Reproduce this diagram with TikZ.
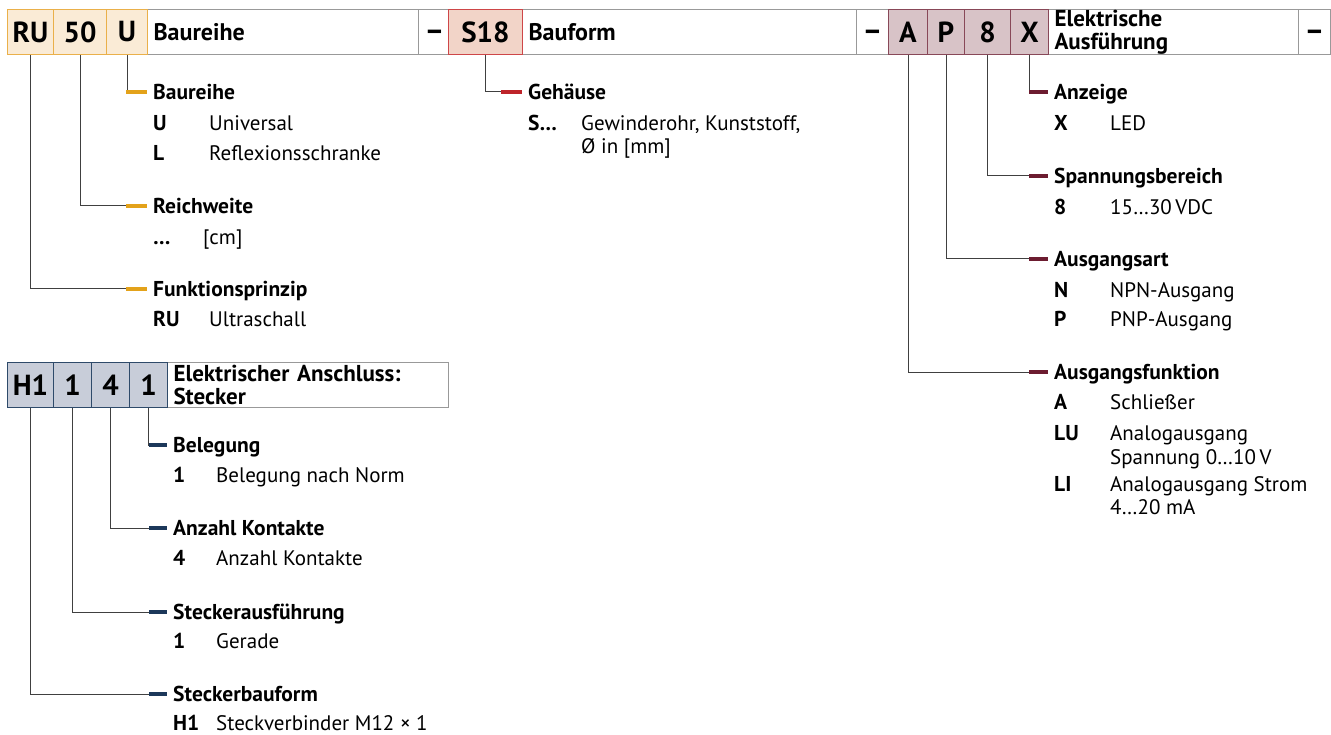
\documentclass[tikz,border=0pt]{standalone}
\usepackage{fontspec}
\setmainfont{PT Sans}
\usetikzlibrary{positioning}
\definecolor{yelfill}{RGB}{250,235,214}
\definecolor{yeldraw}{RGB}{234,176,74}
\definecolor{yelstub}{RGB}{227,162,26}
\definecolor{redfill}{RGB}{242,212,200}
\definecolor{reddraw}{RGB}{206,70,72}
\definecolor{redstub}{RGB}{190,36,42}
\definecolor{winefill}{RGB}{216,195,199}
\definecolor{winedraw}{RGB}{136,72,88}
\definecolor{winestub}{RGB}{108,28,48}
\definecolor{bluefill}{RGB}{200,205,217}
\definecolor{bluedraw}{RGB}{46,74,106}
\definecolor{bluestub}{RGB}{28,56,90}

\begin{document}
\begin{tikzpicture}[x=1pt, y=-1pt,
    box/.style={rectangle, inner sep=0pt, minimum height=45pt, anchor=north west, line width=1pt},
    codebox/.style={box, font=\fontsize{29}{30}\selectfont\bfseries},
    txtbox/.style={box, draw=black!40, fill=white, align=left, inner xsep=6pt, font=\fontsize{24}{22}\selectfont\bfseries},
    dashbox/.style={txtbox, align=center, text height=22pt, text depth=4pt, font=\fontsize{30}{30}\selectfont\bfseries},
    yel/.style={draw=yeldraw, fill=yelfill},
    red/.style={draw=reddraw, fill=redfill},
    wine/.style={draw=winedraw, fill=winefill},
    blue/.style={draw=bluedraw, fill=bluefill},
    head/.style={anchor=west, inner sep=0pt, text height=15pt, text depth=0pt, font=\fontsize{21.5}{24}\selectfont\bfseries},
    key/.style={head},
    desc/.style={anchor=west, inner sep=0pt, text height=15pt, text depth=0pt, font=\fontsize{21}{24}\selectfont},
    conn/.style={draw=black!75, line width=1pt},
    stub/.style={line width=4pt}
]
    \useasboundingbox (0,0) rectangle (1331,735);

    % header row
    \node[txtbox, minimum width=271pt, text width=259pt] (t-bau) at (147,9) {Baureihe};
    \node[dashbox, minimum width=30pt, text width=18pt] (d1) at (418,9) {–};
    \node[txtbox, minimum width=334pt, text width=322pt] (t-form) at (522,9) {Bauform};
    \node[dashbox, minimum width=32pt, text width=20pt] (d2) at (856,9) {–};
    \node[txtbox, minimum width=250pt, text width=238pt, font=\fontsize{23}{23}\selectfont\bfseries] (t-el) at (1048,9) {Elektrische\\Ausführung};
    \node[dashbox, minimum width=32pt, text width=20pt] (d3) at (1298,9) {–};

    \node[codebox, yel, minimum width=46pt] (ru) at (7,9) {RU};
    \node[codebox, yel, minimum width=53pt] (rw) at (53,9) {50};
    \node[codebox, yel, minimum width=41pt] (u) at (106,9) {U};
    \node[codebox, red, minimum width=74pt] (s18) at (448,9) {S18};
    \node[codebox, wine, minimum width=39pt] (a) at (888,9) {A};
    \node[codebox, wine, minimum width=37pt] (p) at (927,9) {P};
    \node[codebox, wine, minimum width=46pt] (v8) at (964,9) {8};
    \node[codebox, wine, minimum width=38pt] (x) at (1010,9) {X};

    % Baureihe
    \node[head] (bau) at (153,92) {Baureihe};
    \node[key] (k-u) at (153,123) {U};
    \node[desc] (d-u) at (209,123) {Universal};
    \node[key] (k-l) at (153,153) {L};
    \node[desc] (d-l) at (209,153) {Reflexionsschranke};
    \node[head] (reich) at (153,206) {Reichweite};
    \node[key] (k-rw) at (153,237) {…};
    \node[desc] (d-rw) at (203,237) {[cm]};
    \node[head] (fp) at (153,289) {Funktionsprinzip};
    \node[key] (k-ru) at (153,319) {RU};
    \node[desc] (d-ru) at (209,319) {Ultraschall};

    \draw[conn] (u.south) |- ([xshift=-6pt]bau.west);
    \draw[conn] (rw.south) |- ([xshift=-6pt]reich.west);
    \draw[conn] (ru.south) |- ([xshift=-6pt]fp.west);
    \draw[stub, yelstub] ([xshift=-27pt]bau.west) -- ([xshift=-6pt]bau.west);
    \draw[stub, yelstub] ([xshift=-27pt]reich.west) -- ([xshift=-6pt]reich.west);
    \draw[stub, yelstub] ([xshift=-27pt]fp.west) -- ([xshift=-6pt]fp.west);

    % Bauform
    \node[head] (geh) at (528,92) {Gehäuse};
    \node[key] (k-s) at (528,123) {S…};
    \node[desc] (d-s) at (581,123) {Gewinderohr, Kunststoff,};
    \node[desc] (d-s2) at (581,146) {Ø in [mm]};

    \draw[conn] (s18.south) |- ([xshift=-6pt]geh.west);
    \draw[stub, redstub] ([xshift=-27pt]geh.west) -- ([xshift=-6pt]geh.west);

    % Elektrische Ausfuehrung
    \node[head] (anz) at (1054,92) {Anzeige};
    \node[key] (k-x) at (1054,123) {X};
    \node[desc] (d-x) at (1110,123) {LED};
    \node[head] (span) at (1054,176) {Spannungsbereich};
    \node[key] (k-8) at (1054,207) {8};
    \node[desc] (d-8) at (1110,207) {15…30\,VDC};
    \node[head] (aart) at (1054,259) {Ausgangsart};
    \node[key] (k-n) at (1054,290) {N};
    \node[desc] (d-n) at (1110,290) {NPN-Ausgang};
    \node[key] (k-p) at (1054,319) {P};
    \node[desc] (d-p) at (1110,319) {PNP-Ausgang};
    \node[head] (afkt) at (1054,372) {Ausgangsfunktion};
    \node[key] (k-a) at (1054,402) {A};
    \node[desc] (d-a) at (1110,402) {Schließer};
    \node[key] (k-lu) at (1054,433) {LU};
    \node[desc] (d-lu) at (1110,433) {Analogausgang};
    \node[desc] (d-lu2) at (1110,457) {Spannung 0…10\,V};
    \node[key] (k-li) at (1054,484) {LI};
    \node[desc] (d-li) at (1110,484) {Analogausgang Strom};
    \node[desc] (d-li2) at (1110,507) {4…20 mA};

    \draw[conn] (x.south) |- ([xshift=-6pt]anz.west);
    \draw[conn] (v8.south) |- ([xshift=-6pt]span.west);
    \draw[conn] (p.south) |- ([xshift=-6pt]aart.west);
    \draw[conn] (a.south) |- ([xshift=-6pt]afkt.west);
    \foreach \n in {anz,span,aart,afkt}
        \draw[stub, winestub] ([xshift=-25pt]\n.west) -- ([xshift=-6pt]\n.west);

    % Stecker
    \node[txtbox, minimum width=281pt, text width=269pt, font=\fontsize{23}{23}\selectfont\bfseries] (t-st) at (167,362) {Elektrischer Anschluss:\\Stecker};
    \node[codebox, blue, minimum width=46pt] (h1) at (7,362) {H1};
    \node[codebox, blue, minimum width=38pt] (c1) at (53,362) {1};
    \node[codebox, blue, minimum width=38pt] (c4) at (91,362) {4};
    \node[codebox, blue, minimum width=38pt] (c1b) at (129,362) {1};

    \node[head] (bel) at (173,445) {Belegung};
    \node[key] (k-bel) at (173,475) {1};
    \node[desc] (d-bel) at (216,475) {Belegung nach Norm};
    \node[head] (kont) at (173,528) {Anzahl Kontakte};
    \node[key] (k-kont) at (173,558) {4};
    \node[desc] (d-kont) at (216,558) {Anzahl Kontakte};
    \node[head] (saus) at (173,612) {Steckerausführung};
    \node[key] (k-saus) at (173,641) {1};
    \node[desc] (d-saus) at (216,641) {Gerade};
    \node[head] (sbf) at (173,694) {Steckerbauform};
    \node[key] (k-sbf) at (173,723) {H1};
    \node[desc] (d-sbf) at (216,723) {Steckverbinder M12 × 1};

    \draw[conn] (c1b.south) |- ([xshift=-6pt]bel.west);
    \draw[conn] (c4.south) |- ([xshift=-6pt]kont.west);
    \draw[conn] (c1.south) |- ([xshift=-6pt]saus.west);
    \draw[conn] (h1.south) |- ([xshift=-6pt]sbf.west);
    \foreach \n in {bel,kont,saus,sbf}
        \draw[stub, bluestub] ([xshift=-24pt]\n.west) -- ([xshift=-6pt]\n.west);
\end{tikzpicture}
\end{document}
